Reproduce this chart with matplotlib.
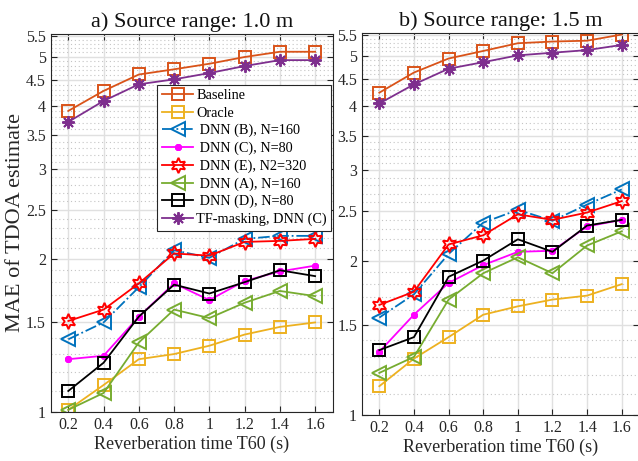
import numpy as np
import matplotlib
matplotlib.use("Agg")
import matplotlib.pyplot as plt
from matplotlib.ticker import FixedLocator, NullFormatter

# reverberation time (s)
t60 = [0.2, 0.4, 0.6, 0.8, 1.0, 1.2, 1.4, 1.6]

# a) source range 1.0 m
baseline_a = [3.91, 4.28, 4.61, 4.72, 4.84, 4.99, 5.11, 5.11]
oracle_a = [1.01, 1.13, 1.27, 1.30, 1.35, 1.42, 1.47, 1.50]
dnn_b_a = [1.39, 1.50, 1.76, 2.08, 2.01, 2.19, 2.22, 2.22]
dnn_c_a = [1.27, 1.29, 1.54, 1.79, 1.66, 1.81, 1.89, 1.94]
dnn_e_a = [1.51, 1.59, 1.79, 2.05, 2.03, 2.16, 2.17, 2.19]
dnn_a_a = [1.01, 1.09, 1.37, 1.59, 1.53, 1.64, 1.73, 1.69]
dnn_d_a = [1.10, 1.25, 1.54, 1.78, 1.71, 1.80, 1.90, 1.85]
tf_mask_a = [3.72, 4.09, 4.41, 4.51, 4.64, 4.79, 4.92, 4.92]

# b) source range 1.5 m
baseline_b = [4.24, 4.64, 4.94, 5.11, 5.29, 5.33, 5.35, 5.50]
oracle_b = [1.14, 1.29, 1.42, 1.57, 1.63, 1.68, 1.71, 1.80]
dnn_b_b = [1.55, 1.72, 2.06, 2.37, 2.51, 2.39, 2.57, 2.75]
dnn_c_b = [1.33, 1.57, 1.81, 1.96, 2.08, 2.09, 2.33, 2.40]
dnn_e_b = [1.64, 1.74, 2.15, 2.24, 2.46, 2.40, 2.48, 2.61]
dnn_a_b = [1.21, 1.30, 1.68, 1.89, 2.03, 1.89, 2.14, 2.28]
dnn_d_b = [1.34, 1.42, 1.86, 2.00, 2.20, 2.08, 2.34, 2.40]
tf_mask_b = [4.04, 4.40, 4.72, 4.86, 5.01, 5.07, 5.13, 5.25]

labels = ["Baseline", "Oracle", " DNN (B), N=160", " DNN (C), N=80",
          " DNN (E), N2=320", " DNN (A), N=160", " DNN (D), N=80",
          "TF-masking, DNN (C)"]
yticks = [1, 1.5, 2, 2.5, 3, 3.5, 4, 4.5, 5, 5.5]

# colour, marker, marker size, line style
styles = [
    ("#D95319", "s", 8, "-"),
    ("#EDB120", "s", 8, "-"),
    ("#0072BD", "<", 10, "-."),
    ("#FF00FF", (8, 2, 0), 5, "-"),
    ("#FF0000", (6, 1, 0), 11, "-"),
    ("#77AC30", "<", 10, "-"),
    ("#000000", "s", 8, "-"),
    ("#7E2F8E", (8, 2, 0), 9, "-"),
]

plt.rcParams["font.family"] = ["Liberation Serif", "DejaVu Serif"]

fig = plt.figure(figsize=(6.38, 4.61), dpi=100)
ax1 = fig.add_axes([0.0795, 0.1063, 0.442, 0.821])
ax2 = fig.add_axes([0.5674, 0.0987, 0.4343, 0.8308])

panels = [
    (ax1, "a) Source range: 1.0 m",
     [baseline_a, oracle_a, dnn_b_a, dnn_c_a, dnn_e_a, dnn_a_a, dnn_d_a, tf_mask_a]),
    (ax2, "b) Source range: 1.5 m",
     [baseline_b, oracle_b, dnn_b_b, dnn_c_b, dnn_e_b, dnn_a_b, dnn_d_b, tf_mask_b]),
]

minor = [v / 10 for v in range(10, 56) if v % 5 != 0]

for ax, title, series in panels:
    for vals, lab, (col, mk, ms, ls) in zip(series, labels, styles):
        ax.plot(t60, vals, color=col, linestyle=ls, linewidth=1.3,
                marker=mk, markersize=ms, markeredgewidth=1.4,
                markerfacecolor="none", label=lab)
    ax.set_yscale("log")
    ax.set_ylim(1, 5.55)
    ax.set_xlim(0.1, 1.7)
    ax.set_xticks(t60)
    ax.set_xticklabels(["0.2", "0.4", "0.6", "0.8", "1", "1.2", "1.4", "1.6"])
    ax.yaxis.set_major_locator(FixedLocator(yticks))
    ax.set_yticklabels([f"{v:g}" for v in yticks])
    ax.yaxis.set_minor_locator(FixedLocator(minor))
    ax.yaxis.set_minor_formatter(NullFormatter())
    ax.grid(True, which="major", color="#e0e0e0", linewidth=1.0)
    ax.grid(True, which="minor", axis="y", color="#c4c4c4", linestyle=(0, (1, 2.5)), linewidth=0.8)
    ax.set_axisbelow(True)
    ax.tick_params(which="major", direction="in", length=4, width=0.8,
                   top=True, right=True, labelsize=11.5, colors="#262626")
    ax.tick_params(which="minor", length=0)
    for sp in ax.spines.values():
        sp.set_color("#262626")
        sp.set_linewidth(0.8)
    ax.set_title(title, fontsize=16, color="#111111", pad=5)
    ax.set_xlabel("Reverberation time T60 (s)", fontsize=13, color="#262626", labelpad=2)

ax1.set_ylabel("MAE of TDOA estimate", fontsize=16, color="#262626", labelpad=1)

leg = ax1.legend(loc="upper right", bbox_to_anchor=(0.994, 0.864), borderaxespad=0,
                 fontsize=10.3, handlelength=2.2, handletextpad=0.2, labelspacing=0.3,
                 borderpad=0.3, fancybox=False, framealpha=1, edgecolor="#262626")
leg.get_frame().set_linewidth(0.8)

fig.savefig("out.png", dpi=100)
